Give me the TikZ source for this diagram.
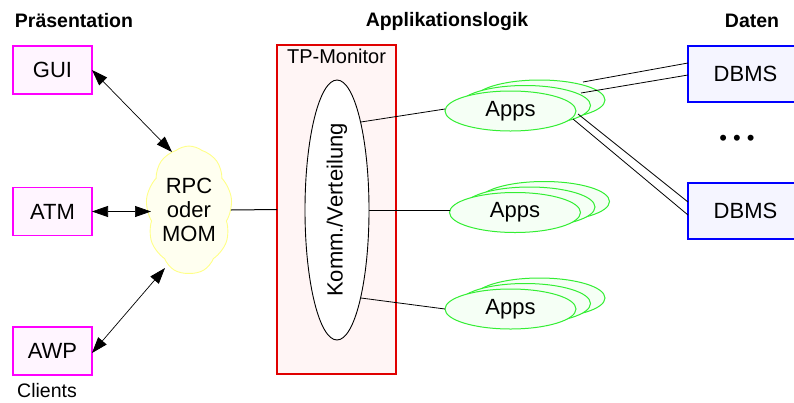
\documentclass[tikz,border=0pt]{standalone}
\usepackage{fontspec}
\setmainfont{Liberation Sans}
\usetikzlibrary{shapes.geometric,shapes.symbols,arrows.meta}
\definecolor{pfill}{HTML}{FFF5FF}
\definecolor{pdraw}{HTML}{FF00FF}
\definecolor{tfill}{HTML}{FFF5F5}
\definecolor{tdraw}{HTML}{E00000}
\definecolor{afill}{HTML}{F5FFF5}
\definecolor{adraw}{HTML}{33EE33}
\definecolor{dfill}{HTML}{F5F5FF}
\definecolor{ddraw}{HTML}{0000FF}
\definecolor{cfill}{HTML}{FFFFF0}
\definecolor{cdraw}{HTML}{FFFF88}
\begin{document}
\begin{tikzpicture}[x=1pt,y=-1pt,
  every node/.style={font=\fontsize{22}{24}\selectfont, inner sep=0pt, outer sep=0pt},
  head/.style={font=\fontsize{19.5}{22}\selectfont\bfseries},
  small/.style={font=\fontsize{19.5}{22}\selectfont},
  client/.style={draw=pdraw, fill=pfill, line width=1.2pt, minimum width=79pt, minimum height=48pt},
  dbbox/.style={draw=ddraw, fill=dfill, line width=1.2pt, minimum width=115pt, minimum height=56pt},
  appell/.style={ellipse, draw=adraw, fill=afill, line width=1pt, minimum width=131pt, minimum height=40pt},
  tpbox/.style={draw=tdraw, fill=tfill, line width=1.2pt, minimum width=119pt, minimum height=329pt},
  cloudnode/.style={cloud, cloud puffs=9, cloud puff arc=75, aspect=0.6, draw=cdraw, fill=cfill, line width=0.9pt, minimum width=82pt, minimum height=124pt, align=center},
  biarrow/.style={line width=0.7pt, {Triangle[length=16pt,width=11pt]}-{Triangle[length=16pt,width=11pt]}},
  thin/.style={line width=0.8pt},
  thick1/.style={line width=1pt}
]
\clip (0,0) rectangle (794,402);
\fill[white] (0,0) rectangle (794,402);

% headings
\node[head] (hp) at (74,21) {Präsentation};
\node[head] (ha) at (447,21) {Applikationslogik};
\node[head] (hd) at (752,21) {Daten};

% clients
\node[client] (gui) at (52.5,70) {GUI};
\node[client] (atm) at (52.5,211.5) {ATM};
\node[client] (awp) at (52.5,351) {AWP};
\node[small] (cl) at (47,391) {Clients};

% cloud
\node[cloudnode] (cloud) at (189,210) {RPC\\oder\\MOM};
\coordinate (c1) at (172,152);
\coordinate (c2) at (151,211.5);
\coordinate (c3) at (165,268);

% TP monitor
\node[tpbox] (tp) at (336.5,209.5) {};
\node[small, font=\fontsize{20}{22}\selectfont] (tpl) at (336.5,56) {TP-Monitor};
\node[ellipse, draw, fill=white, line width=0.9pt, minimum width=64pt, minimum height=260pt] (kv) at (337,210) {};
\node[rotate=90] (kvt) at (kv.center) {Komm./Verteilung};

% apps stacks
\foreach \n/\x/\y in {1/510.5/111, 2/515/212.5, 3/510.5/309} {
  \node[appell] (apps\n c) at (\x+29,\y-11) {};
  \node[appell] (apps\n b) at (\x+14.5,\y-5.5) {};
  \node[appell] (apps\n) at (\x,\y) {Apps};
}

% DBMS
\node[dbbox] (db1) at (745.5,74) {DBMS};
\node[dbbox] (db2) at (745.5,211) {DBMS};
\node (dots) at (737,140) {•\ •\ •};

% connectors
\draw[biarrow] (gui.east) -- (c1);
\draw[biarrow] (atm.east) -- (c2);
\draw[biarrow] ([yshift=-2pt]awp.east) -- (c3);
\draw[thick1] (cloud.east) -- (tp.west);
\draw[thin] (kv.75) -- ([yshift=2pt]apps1.west);
\draw[thick1] (kv.east) -- ([yshift=2.5pt]apps2.west);
\draw[thin] (kv.-75) -- (apps3.west);

\coordinate (s1) at (583,82);
\coordinate (s2) at (581,93);
\coordinate (s3) at (578,114);
\coordinate (s4) at (573,119);
\draw[thin] (s1) -- ([yshift=11pt]db1.west);
\draw[thin] (s2) -- ([yshift=-1pt]db1.west);
\draw[thin] (s3) -- ([yshift=9pt]db2.west);
\draw[thin] (s4) -- ([yshift=-4pt]db2.west);
\end{tikzpicture}
\end{document}
